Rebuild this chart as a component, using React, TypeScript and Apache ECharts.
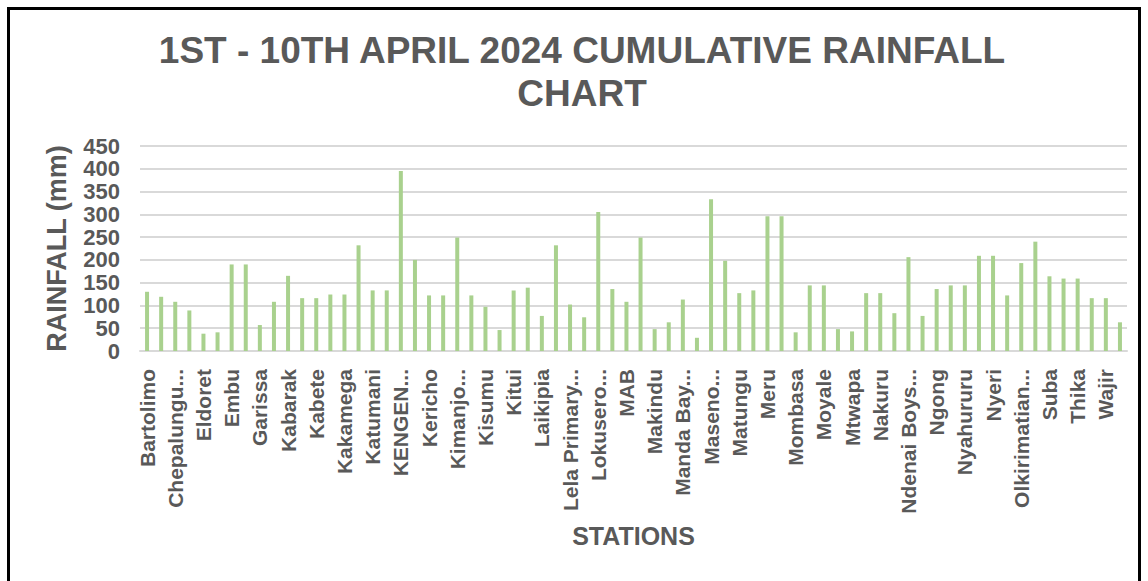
import React, { useEffect, useRef } from "react";
import * as echarts from "echarts";

const stations: string[] = [
  "Bartolimo", "Bomet", "Chepalungu...", "Dagoretti", "Eldoret", "Eldoret Airport",
  "Embu", "Embu Agromet", "Garissa", "Homa Bay", "Kabarak", "Kabarnet",
  "Kabete", "Kajiado", "Kakamega", "Kapenguria", "Katumani", "Kayole",
  "KENGEN...", "Kenyatta Univ", "Kericho", "Kiambu", "Kimanjo...", "Kisii",
  "Kisumu", "Kitale", "Kitui", "Kwale", "Laikipia", "Lamu",
  "Lela Primary...", "Lodwar", "Lokusero...", "Loruk", "MAB", "Machakos",
  "Makindu", "Malindi", "Manda Bay...", "Marsabit", "Maseno...", "Matuga",
  "Matungu", "Mau Narok", "Meru", "Migori", "Mombasa", "Mount Kenya",
  "Moyale", "Mpeketoni", "Mtwapa", "Murang'a", "Nakuru", "Narok",
  "Ndenai Boys...", "Ngara", "Ngong", "Nkubu", "Nyahururu", "Nyamira",
  "Nyeri", "Ol Joro Orok", "Olkirimatian...", "Rumuruti", "Suba", "Taveta",
  "Thika", "Voi", "Wajir", "Wilson",
];

const rainfall: number[] = [
  130, 119, 108, 89, 38, 41, 190, 190, 57, 108,
  165, 116, 116, 124, 124, 232, 133, 133, 395, 200,
  122, 122, 249, 122, 97, 46, 133, 139, 77, 232,
  102, 74, 305, 136, 108, 249, 48, 63, 113, 29,
  333, 198, 127, 133, 296, 296, 41, 144, 144, 48,
  43, 127, 127, 83, 206, 77, 136, 144, 144, 209,
  209, 122, 193, 240, 164, 159, 159, 116, 116, 63,
];

const yTicks = { min: 0, max: 450, interval: 50 };

const titleText = "1ST - 10TH APRIL 2024 CUMULATIVE RAINFALL\nCHART";
const xName = "STATIONS";
const yName = "RAINFALL (mm)";

const FONT = "Arial, 'Liberation Sans', sans-serif";
const GREY = "#595959";

export default function App() {
  const ref = useRef<HTMLDivElement>(null);
  useEffect(() => {
    if (!ref.current) return;
    const chart = echarts.init(ref.current, undefined, { renderer: "svg" });
    chart.setOption({
      animation: false,
      backgroundColor: "#ffffff",
      title: {
        text: titleText,
        left: 582,
        top: 29,
        textAlign: "center",
        padding: 0,
        textStyle: {
          fontFamily: FONT,
          fontSize: 37,
          fontWeight: "bold",
          color: GREY,
          lineHeight: 43,
        },
      },
      grid: { left: 140, right: 21, top: 146, bottom: 230, containLabel: false },
      xAxis: {
        type: "category",
        data: stations,
        name: xName,
        nameLocation: "middle",
        nameGap: 172,
        nameTextStyle: {
          fontFamily: FONT,
          fontSize: 25,
          fontWeight: "bold",
          color: GREY,
        },
        axisLine: { show: true, lineStyle: { color: "#d9d9d9", width: 2 } },
        axisTick: { show: false },
        axisLabel: {
          interval: 1,
          rotate: 90,
          margin: 18,
          fontFamily: FONT,
          fontSize: 21,
          fontWeight: "bold",
          color: GREY,
          width: 150,
          overflow: "truncate",
          ellipsis: "...",
        },
      },
      yAxis: {
        type: "value",
        min: yTicks.min,
        max: yTicks.max,
        interval: yTicks.interval,
        name: yName,
        nameLocation: "middle",
        nameGap: 70,
        nameTextStyle: {
          fontFamily: FONT,
          fontSize: 27,
          fontWeight: "bold",
          color: GREY,
        },
        axisLine: { show: false },
        axisTick: { show: false },
        axisLabel: {
          margin: 20,
          fontFamily: FONT,
          fontSize: 22,
          fontWeight: "bold",
          color: GREY,
        },
        splitLine: { lineStyle: { color: "#d9d9d9", width: 2 } },
      },
      series: [
        {
          type: "bar",
          data: rainfall,
          barWidth: 4,
          itemStyle: { color: "#a9d18e" },
        },
      ],
    });
    return () => chart.dispose();
  }, []);

  return (
    <div
      style={{
        position: "fixed",
        left: 0,
        top: 0,
        width: 1148,
        height: 581,
        overflow: "hidden",
        background: "#fff",
      }}
    >
      <div ref={ref} style={{ position: "absolute", left: 0, top: 0, width: 1148, height: 581 }} />
      <div
        style={{
          position: "absolute",
          left: 7,
          top: 7,
          width: 1128,
          height: 600,
          border: "3px solid #000",
          pointerEvents: "none",
        }}
      />
    </div>
  );
}
